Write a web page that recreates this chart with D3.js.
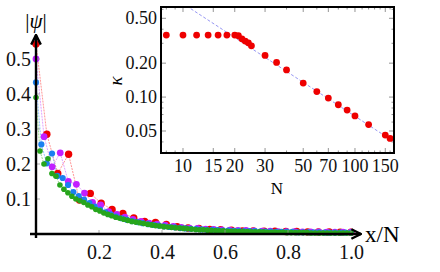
<!DOCTYPE html>
<html>
<head>
<meta charset="utf-8">
<script src="https://cdn.jsdelivr.net/npm/d3@7"></script>
<style>
  body { margin: 0; background: #fff; }
  svg text { font-family: "Liberation Serif", "Times New Roman", Times, Tinos, "Nimbus Roman", "DejaVu Serif", serif; }
</style>
</head>
<body>
<div id="chart"></div>
<script>
// main plot: |psi| against x/N, four system sizes
const redPsi = [0.543, 0.285, 0.173, 0.228, 0.097, 0.116, 0.088, 0.070, 0.059, 0.046, 0.036, 0.033, 0.027, 0.021, 0.017,
  0.016, 0.013, 0.012, 0.011, 0.009, 0.009, 0.008, 0.008, 0.007, 0.007, 0.006, 0.006, 0.006, 0.005, 0.005];
const magentaPsi = [0.50, 0.278, 0.192, 0.232, 0.150, 0.142, 0.117, 0.090, 0.083, 0.064, 0.056, 0.048, 0.042, 0.036,
  0.031, 0.028, 0.025, 0.022, 0.019, 0.017, 0.016, 0.014, 0.013, 0.012, 0.011, 0.010, 0.010, 0.009, 0.008, 0.008,
  0.007, 0.007, 0.007, 0.006, 0.006, 0.006, 0.005, 0.005, 0.005, 0.005];
const bluePsi = [0.433, 0.256, 0.202, 0.230, 0.166, 0.160, 0.140, 0.120, 0.108, 0.098, 0.088, 0.078, 0.070, 0.062,
  0.056, 0.050, 0.045, 0.041, 0.037, 0.034, 0.031, 0.028, 0.026, 0.024, 0.022, 0.020, 0.019, 0.017, 0.016, 0.015,
  0.014, 0.013, 0.012, 0.012, 0.011, 0.010, 0.010, 0.009, 0.009, 0.008, 0.008, 0.008, 0.007, 0.007, 0.007, 0.006,
  0.006, 0.006, 0.006, 0.005, 0.005, 0.005, 0.005, 0.005, 0.004, 0.004, 0.004, 0.004, 0.004, 0.004];
const greenPsi = [0.39, 0.237, 0.200, 0.215, 0.173, 0.165, 0.140, 0.128, 0.118, 0.108, 0.100, 0.095, 0.090, 0.083,
  0.078, 0.070, 0.066, 0.060, 0.056, 0.052, 0.048, 0.045, 0.042, 0.039, 0.036, 0.034, 0.032, 0.030, 0.028, 0.026,
  0.024, 0.023, 0.021, 0.020, 0.019, 0.018, 0.017, 0.016, 0.015, 0.014, 0.013, 0.012, 0.012, 0.011, 0.010, 0.010,
  0.009, 0.009, 0.008, 0.008, 0.008, 0.007, 0.007, 0.007, 0.006, 0.006, 0.006, 0.006, 0.005, 0.005, 0.005, 0.005,
  0.005, 0.004, 0.004, 0.004, 0.004, 0.004, 0.004, 0.003, 0.003, 0.003, 0.003, 0.003, 0.003, 0.003, 0.003, 0.003,
  0.003, 0.003];
const xTicks = [0.2, 0.4, 0.6, 0.8, 1.0];
const yTicks = [0.1, 0.2, 0.3, 0.4, 0.5];

// inset: kappa against N (log-log)
const insetN = [8, 10, 12, 14, 16, 18, 20, 21, 22, 23, 24, 25, 30, 35, 40, 50, 60, 70, 80, 90, 100, 120, 150, 160];
const insetKappa = [0.355, 0.355, 0.355, 0.355, 0.355, 0.355, 0.355, 0.350, 0.329, 0.314, 0.303, 0.285, 0.234, 0.203,
  0.174, 0.133, 0.112, 0.098, 0.0855, 0.0767, 0.068, 0.057, 0.046, 0.043];
const fitN = [7.5, 170];
const fitKappa = [0.90, 0.0398];
const insetXTicks = [10, 15, 20, 30, 50, 70, 100, 150];
const insetYTicks = [0.05, 0.1, 0.2, 0.5];

const width = 440, height = 272;
const svg = d3.select('#chart').append('svg')
    .attr('width', width)
    .attr('height', height);

const x = d3.scaleLinear().domain([0, 1]).range([36, 351]);
const y = d3.scaleLinear().domain([0, 0.5]).range([234, 59]);

// series, drawn back to front
const series = [
    { values: redPsi, color: '#ee0000', light: '#ff7a7a', r: 3.7 },
    { values: magentaPsi, color: '#c21fff', light: '#d98aff', r: 3.4 },
    { values: bluePsi, color: '#1c7ff0', light: '#7fb4ff', r: 3.1 },
    { values: greenPsi, color: '#27a51c', light: '#7fd070', r: 2.8 }
];

const line = d3.line()
    .x((d, i, arr) => x(i / (arr.length - 1)))
    .y(d => y(d));

series.forEach(s => {
    svg.append('path')
        .datum(s.values)
        .attr('fill', 'none')
        .attr('stroke', s.light)
        .attr('stroke-width', 0.8)
        .attr('stroke-dasharray', '2,1')
        .attr('d', line);
});
series.forEach(s => {
    svg.append('g').selectAll('circle')
        .data(s.values)
        .enter()
        .append('circle')
        .attr('cx', (d, i) => x(i / (s.values.length - 1)))
        .attr('cy', d => y(d))
        .attr('r', s.r)
        .attr('fill', s.color);
});

// axes with arrow heads
const defs = svg.append('defs');
defs.append('marker')
    .attr('id', 'arrow')
    .attr('viewBox', '0 0 10 10')
    .attr('refX', 9).attr('refY', 5)
    .attr('markerWidth', 5).attr('markerHeight', 5)
    .attr('orient', 'auto')
    .append('path')
    .attr('d', 'M1,1 L9,5 L1,9')
    .attr('fill', 'none')
    .attr('stroke', '#000')
    .attr('stroke-width', 2);

const xAxis = svg.append('g')
    .attr('transform', `translate(0,${y(0)})`)
    .call(d3.axisBottom(x).tickValues(xTicks).tickFormat(d3.format('.1f')).tickSize(0).tickPadding(11));
xAxis.select('.domain').remove();
xAxis.attr('font-family', null);
xAxis.selectAll('text').attr('font-size', 20).attr('fill', '#111');

const yAxis = svg.append('g')
    .attr('transform', `translate(${x(0)},0)`)
    .call(d3.axisLeft(y).tickValues(yTicks).tickFormat(d3.format('.1f')).tickSize(0).tickPadding(5));
yAxis.select('.domain').remove();
yAxis.attr('font-family', null);
yAxis.selectAll('text').attr('font-size', 20).attr('fill', '#111');

// small tick marks
svg.append('g').selectAll('line')
    .data(xTicks).enter().append('line')
    .attr('x1', d => x(d)).attr('x2', d => x(d))
    .attr('y1', y(0)).attr('y2', y(0) - 4)
    .attr('stroke', '#999').attr('stroke-width', 0.8);
svg.append('g').selectAll('line')
    .data(yTicks).enter().append('line')
    .attr('x1', x(0)).attr('x2', x(0) + 4)
    .attr('y1', d => y(d)).attr('y2', d => y(d))
    .attr('stroke', '#999').attr('stroke-width', 0.8);

svg.append('line')
    .attr('x1', x(0) - 6).attr('x2', 361)
    .attr('y1', y(0)).attr('y2', y(0))
    .attr('stroke', '#000').attr('stroke-width', 2.4)
    .attr('marker-end', 'url(#arrow)');
svg.append('line')
    .attr('x1', x(0)).attr('x2', x(0))
    .attr('y1', y(0) + 4).attr('y2', 35)
    .attr('stroke', '#000').attr('stroke-width', 2.4)
    .attr('marker-end', 'url(#arrow)');

svg.append('text')
    .attr('x', 365).attr('y', 242)
    .attr('font-size', 23)
    .text('x/N');
const psiLabel = svg.append('text')
    .attr('x', 36).attr('y', 28)
    .attr('text-anchor', 'middle')
    .attr('font-size', 21);
psiLabel.append('tspan').text('|');
psiLabel.append('tspan').attr('font-style', 'italic').text('ψ');
psiLabel.append('tspan').text('|');

// ---- inset ----
const xi = d3.scaleLog().domain([7.45, 168.6]).range([161, 394]);
const yi = d3.scaleLog().domain([0.0319, 0.63]).range([153, 7]);

svg.append('rect')
    .attr('x', 161).attr('y', 7)
    .attr('width', 233).attr('height', 146)
    .attr('fill', '#fff');

defs.append('clipPath').attr('id', 'insetClip')
    .append('rect')
    .attr('x', 161).attr('y', 7)
    .attr('width', 233).attr('height', 146);

// log ticks, major and minor
const minorX = d3.range(8, 170).filter(n => (n < 10) || n % 5 === 0 && (n < 20 || n % 10 === 0));
const minorY = [0.04, 0.06, 0.07, 0.08, 0.09, 0.3, 0.4, 0.6];
const tickG = svg.append('g').attr('stroke', '#666').attr('stroke-width', 0.7);
minorX.forEach(n => {
    const len = insetXTicks.includes(n) ? 5 : 2.5;
    tickG.append('line').attr('x1', xi(n)).attr('x2', xi(n)).attr('y1', 153).attr('y2', 153 - len);
    tickG.append('line').attr('x1', xi(n)).attr('x2', xi(n)).attr('y1', 7).attr('y2', 7 + len);
});
insetYTicks.concat(minorY).forEach(k => {
    const len = insetYTicks.includes(k) ? 5 : 2.5;
    tickG.append('line').attr('x1', 161).attr('x2', 161 + len).attr('y1', yi(k)).attr('y2', yi(k));
    tickG.append('line').attr('x1', 394).attr('x2', 394 - len).attr('y1', yi(k)).attr('y2', yi(k));
});

const fitLine = d3.line()
    .x((d, i) => xi(fitN[i]))
    .y(d => yi(d));
svg.append('path')
    .datum(fitKappa)
    .attr('clip-path', 'url(#insetClip)')
    .attr('fill', 'none')
    .attr('stroke', '#8a8af0')
    .attr('stroke-width', 0.9)
    .attr('stroke-dasharray', '3,2')
    .attr('d', fitLine);

svg.append('g').selectAll('circle')
    .data(insetKappa)
    .enter()
    .append('circle')
    .attr('cx', (d, i) => xi(insetN[i]))
    .attr('cy', d => yi(d))
    .attr('r', 3.4)
    .attr('fill', '#ee0000');

svg.append('rect')
    .attr('x', 161).attr('y', 7)
    .attr('width', 233).attr('height', 146)
    .attr('fill', 'none')
    .attr('stroke', '#000')
    .attr('stroke-width', 2);

svg.append('g').selectAll('text')
    .data(insetXTicks).enter().append('text')
    .attr('x', d => xi(d)).attr('y', 172)
    .attr('text-anchor', 'middle')
    .attr('font-size', 18)
    .attr('fill', '#111')
    .text(d => d);
svg.append('g').selectAll('text')
    .data(insetYTicks).enter().append('text')
    .attr('x', 157).attr('y', d => yi(d) + 6)
    .attr('text-anchor', 'end')
    .attr('font-size', 18)
    .attr('fill', '#111')
    .text(d => d3.format('.2f')(d));

svg.append('text')
    .attr('x', 277).attr('y', 194)
    .attr('text-anchor', 'middle')
    .attr('font-size', 17)
    .text('N');
svg.append('text')
    .attr('transform', 'translate(122,81) rotate(-90)')
    .attr('text-anchor', 'middle')
    .attr('font-size', 19)
    .attr('font-style', 'italic')
    .text('κ');
</script>
</body>
</html>
